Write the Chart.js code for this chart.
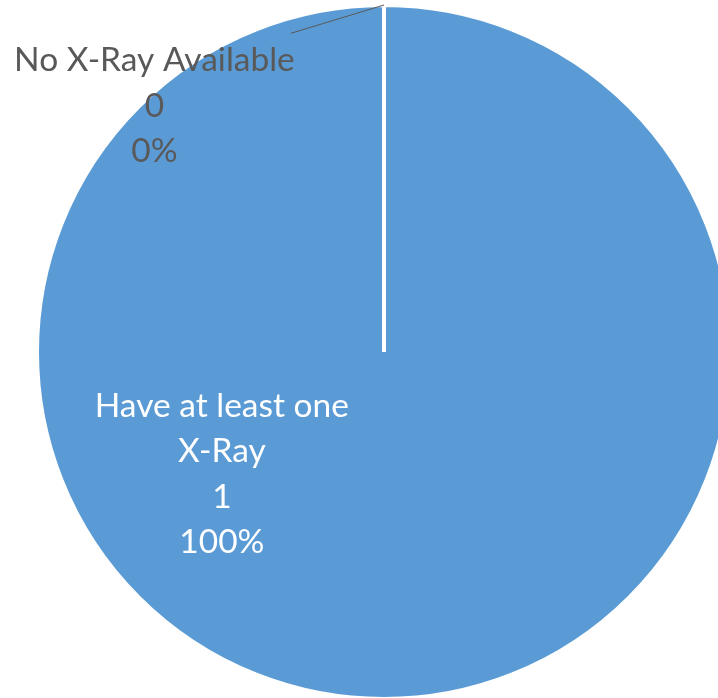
<!DOCTYPE html>
<html>
<head>
<meta charset="utf-8">
<script src="https://cdn.jsdelivr.net/npm/chart.js@4.4.1/dist/chart.umd.min.js"></script>
<style>
  html, body { margin: 0; padding: 0; background: #fff; overflow: hidden; }
  #wrap { width: 760px; height: 720px; position: relative; }
</style>
</head>
<body>
<div id="wrap"><canvas id="pie"></canvas></div>
<script>
// data
const categories = ['Have at least one X-Ray', 'No X-Ray Available'];
const counts = [1, 0];
// wrapped label text per slice
const labelLines = [['Have at least one', 'X-Ray'], ['No X-Ray Available']];

const sliceColors = ['#5B9BD5', '#ED7D31'];

// where each label sits: angle (deg, canvas coords) and distance as fraction of radius
const labelSpots = [
    { angle: 143, dist: 0.585, color: '#ffffff', leader: false },
    { angle: -133, dist: 0.97, color: '#595959', leader: true }
];

const FONT = '33.5px Lato, Calibri, "Liberation Sans", sans-serif';
const LINE_H = 45.5;

const labelPlugin = {
    id: 'excelLabels',
    afterDatasetsDraw(chart) {
        const ctx = chart.ctx;
        const meta = chart.getDatasetMeta(0);
        const total = counts.reduce((a, b) => a + b, 0);
        ctx.save();
        ctx.font = FONT;
        ctx.textAlign = 'center';
        ctx.textBaseline = 'middle';
        meta.data.forEach((arc, i) => {
            const p = arc.getProps(['x', 'y', 'outerRadius', 'endAngle'], true);
            const spot = labelSpots[i];
            const a = spot.angle * Math.PI / 180;
            const cx = p.x + Math.cos(a) * p.outerRadius * spot.dist;
            const cy = p.y + Math.sin(a) * p.outerRadius * spot.dist;
            const pct = Math.round(counts[i] / total * 100) + '%';
            const lines = labelLines[i].concat([String(counts[i]), pct]);
            const top = cy - (lines.length - 1) * LINE_H / 2;
            ctx.fillStyle = spot.color;
            lines.forEach((t, k) => ctx.fillText(t, cx, top + k * LINE_H));
            if (spot.leader) {
                const w = ctx.measureText(lines[0]).width;
                ctx.strokeStyle = '#595959';
                ctx.lineWidth = 1;
                ctx.beginPath();
                ctx.moveTo(cx + w / 2 - 4, top - 27);
                ctx.lineTo(p.x + Math.cos(p.endAngle) * p.outerRadius,
                           p.y + Math.sin(p.endAngle) * p.outerRadius);
                ctx.stroke();
            }
        });
        ctx.restore();
    }
};

new Chart(document.getElementById('pie'), {
    type: 'pie',
    data: {
        labels: categories,
        datasets: [{
            data: counts,
            backgroundColor: sliceColors,
            borderColor: '#ffffff',
            borderWidth: 4
        }]
    },
    options: {
        responsive: true,
        maintainAspectRatio: false,
        animation: false,
        layout: { padding: { left: 35, right: 27, top: 3, bottom: 19 } },
        plugins: {
            legend: { display: false },
            tooltip: { enabled: false }
        }
    },
    plugins: [labelPlugin]
});
</script>
</body>
</html>
